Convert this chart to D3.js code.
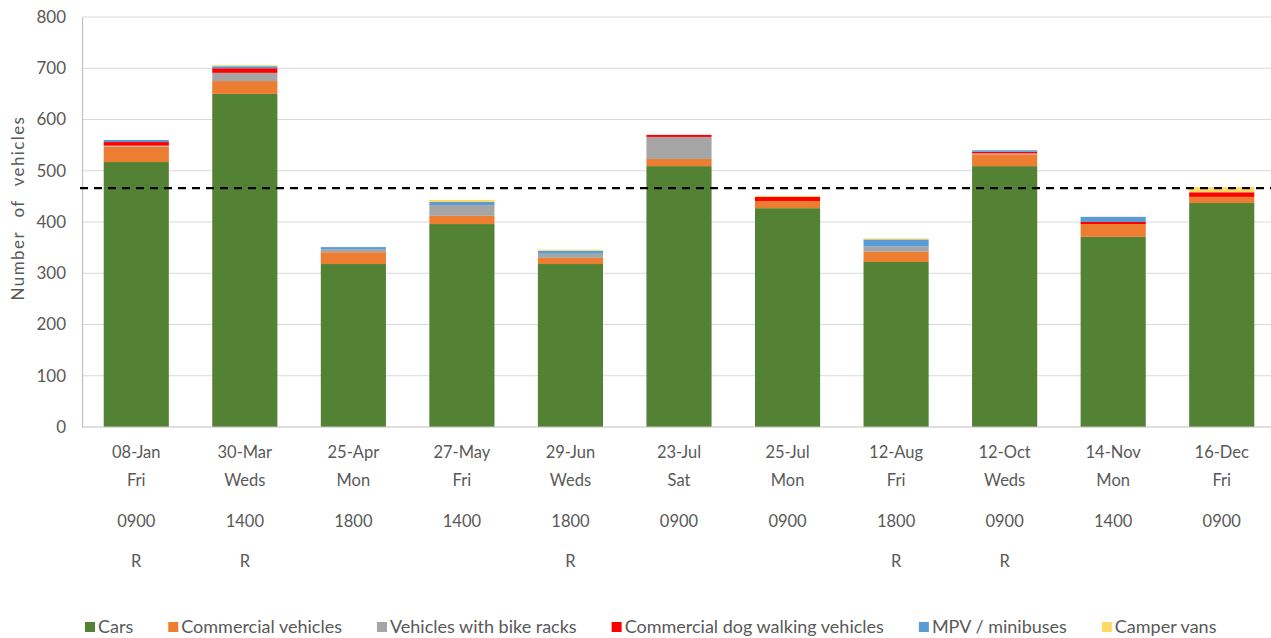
<!DOCTYPE html>
<html>
<head>
<meta charset="utf-8">
<script src="https://cdn.jsdelivr.net/npm/d3@7/dist/d3.min.js"></script>
<style>
	body { margin: 0; background: #fff; }
	text { font-family: Lato, "Open Sans", sans-serif; fill: #595959; }
</style>
</head>
<body>
<svg id="chart" width="1271" height="638"></svg>
<script>
// categories (date, day, time, R flag)
var dates = ["08-Jan", "30-Mar", "25-Apr", "27-May", "29-Jun", "23-Jul", "25-Jul", "12-Aug", "12-Oct", "14-Nov", "16-Dec"];
var days  = ["Fri", "Weds", "Mon", "Fri", "Weds", "Sat", "Mon", "Fri", "Weds", "Mon", "Fri"];
var times = ["0900", "1400", "1800", "1400", "1800", "0900", "0900", "1800", "0900", "1400", "0900"];
var flags = ["R", "R", "", "", "R", "", "", "R", "R", "", ""];

// series values
var cars       = [517, 650, 318, 396, 318, 509, 427, 322, 509, 371, 437];
var commercial = [ 30,  25,  23,  16,  12,  14,  14,  20,  23,  25,  12];
var bikeRacks  = [  2,  16,   6,  21,   8,  43,   0,  10,   2,   0,   0];
var dogWalking = [  7,   9,   0,   0,   0,   4,   8,   0,   3,   4,   9];
var minibuses  = [  4,   4,   4,   6,   6,   0,   0,  14,   3,  10,   0];
var camperVans = [  0,   2,   0,   4,   2,   0,   2,   2,   0,   0,  10];

var seriesNames  = ["Cars", "Commercial vehicles", "Vehicles with bike racks", "Commercial dog walking vehicles", "MPV / minibuses", "Camper vans"];
var seriesColors = ["#548235", "#ED7D31", "#A5A5A5", "#FF0000", "#5B9BD5", "#FFD966"];
var seriesValues = [cars, commercial, bikeRacks, dogWalking, minibuses, camperVans];

var average = 466;
var yTicks = [0, 100, 200, 300, 400, 500, 600, 700, 800];

var svg = d3.select("#chart");

var plotLeft = 82, plotRight = 1276, plotTop = 17, plotBottom = 427;

var x = d3.scaleBand()
	.domain(dates)
	.range([plotLeft, plotRight])
	.paddingInner(0.4)
	.paddingOuter(0.2);

var y = d3.scaleLinear()
	.domain([0, 800])
	.range([plotBottom, plotTop]);

// rows for the stack
var rows = dates.map(function(d, i) {
	var row = { date: d };
	seriesNames.forEach(function(name, s) { row[name] = seriesValues[s][i]; });
	return row;
});
var stacked = d3.stack().keys(seriesNames)(rows);

// gridlines
svg.append("g")
	.selectAll("line")
	.data(yTicks.slice(1))
	.enter().append("line")
	.attr("x1", plotLeft)
	.attr("x2", 1271)
	.attr("y1", function(d) { return y(d); })
	.attr("y2", function(d) { return y(d); })
	.attr("stroke", "#d9d9d9")
	.attr("stroke-width", 1.2);

// y axis
var yAxis = svg.append("g")
	.attr("transform", "translate(" + plotLeft + ",0)")
	.call(d3.axisLeft(y).tickValues(yTicks).tickSize(0).tickPadding(16));
yAxis.select(".domain").attr("stroke", "#bfbfbf").attr("stroke-width", 1.2);
yAxis.selectAll("text").style("font-size", "17px").attr("fill", "#595959");

// bars
svg.append("g")
	.selectAll("g")
	.data(stacked)
	.enter().append("g")
	.attr("fill", function(d, i) { return seriesColors[i]; })
	.selectAll("rect")
	.data(function(d) { return d; })
	.enter().append("rect")
	.attr("x", function(d) { return x(d.data.date); })
	.attr("width", x.bandwidth())
	.attr("y", function(d) { return y(d[1]); })
	.attr("height", function(d) { return y(d[0]) - y(d[1]); });

// baseline
svg.append("line")
	.attr("x1", plotLeft)
	.attr("x2", 1271)
	.attr("y1", y(0))
	.attr("y2", y(0))
	.attr("stroke", "#bfbfbf")
	.attr("stroke-width", 1.2);

// average line
svg.append("line")
	.attr("x1", plotLeft - 2)
	.attr("x2", 1271)
	.attr("y1", y(average))
	.attr("y2", y(average))
	.attr("stroke", "#000")
	.attr("stroke-width", 2.2)
	.attr("stroke-dasharray", "8,6");

// category labels, four rows
var labelRows = [dates, days, times, flags];
var rowY = [458, 486, 527, 567];
labelRows.forEach(function(arr, r) {
	svg.append("g")
		.selectAll("text")
		.data(arr)
		.enter().append("text")
		.attr("x", function(d, i) { return x(dates[i]) + x.bandwidth() / 2; })
		.attr("y", rowY[r])
		.attr("text-anchor", "middle")
		.style("font-size", "16.5px")
		.text(function(d) { return d; });
});

// y axis title
svg.append("text")
	.attr("transform", "translate(24,208) rotate(-90)")
	.attr("text-anchor", "middle")
	.style("font-size", "17px")
	.style("letter-spacing", "1.4px")
	.style("word-spacing", "8px")
	.text("Number of vehicles");

// legend
var legend = svg.append("g");
var lx = 85;
seriesNames.forEach(function(name, i) {
	var item = legend.append("g").attr("transform", "translate(" + lx + ",627)");
	item.append("rect")
		.attr("x", 0)
		.attr("y", -5)
		.attr("width", 10)
		.attr("height", 10)
		.attr("fill", seriesColors[i]);
	var t = item.append("text")
		.attr("x", 13)
		.attr("y", 6)
		.style("font-size", "18px")
		.text(name);
	lx += 13 + t.node().getComputedTextLength() + 35;
});
</script>
</body>
</html>
